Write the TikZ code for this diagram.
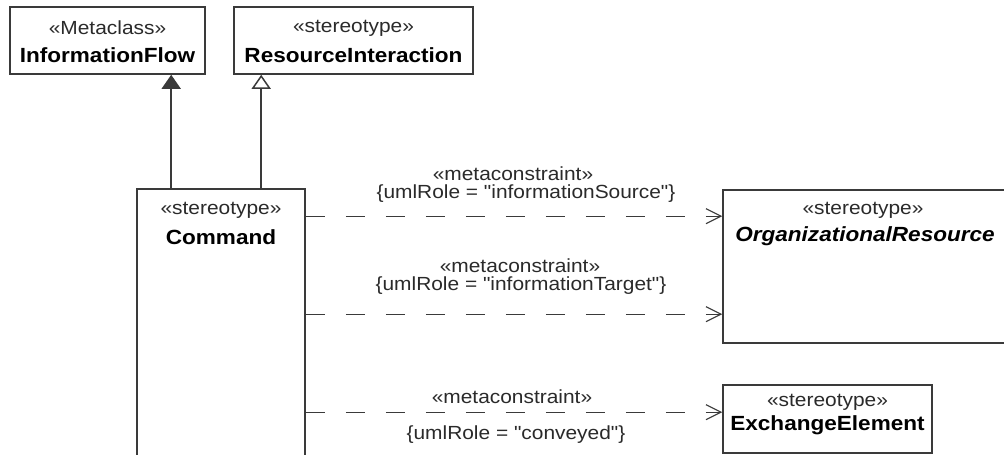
\documentclass[tikz,border=0pt]{standalone}
\usepackage{fontspec}
\setmainfont{Liberation Sans}[FakeStretch=1.1, Ligatures=TeXOff]
\usetikzlibrary{arrows.meta}
\definecolor{ln}{HTML}{3A3A3A}
\definecolor{txt}{HTML}{2A2A2A}
\tikzset{
  box/.style={draw=ln, line width=1.6pt, rectangle, inner sep=0pt, fill=white},
  ster/.style={inner sep=0pt, text=txt, font=\fontsize{19}{19}\selectfont},
  nm/.style={inner sep=0pt, text=black, font=\fontsize{20.5}{20.5}\selectfont\bfseries},
  lbl/.style={inner sep=0pt, text=txt, font=\fontsize{19}{19}\selectfont},
  genfill/.style={draw=ln, line width=1.5pt, -{Triangle[length=14pt,width=19pt,fill=ln]}},
  genopen/.style={draw=ln, line width=1.5pt, -{Triangle[open,length=14pt,width=19pt,fill=white]}},
  dep/.style={draw=ln, line width=1.1pt, dash pattern=on 19pt off 21pt, -{Straight Barb[length=15pt,width=15pt,line width=1.1pt]}}
}
\begin{document}
\begin{tikzpicture}[x=1pt,y=-1pt]
\useasboundingbox (0,0) rectangle (1004,455);
\clip (0,0) rectangle (1004,455);
\fill[white] (0,0) rectangle (1004,455);
% boxes
\node[box, minimum width=195pt, minimum height=67pt] (ifl) at (107.5,40.5) {};
\node[box, minimum width=239pt, minimum height=67pt] (ri) at (353.5,40.5) {};
\node[box, minimum width=168pt, minimum height=290pt] (cmd) at (221,334) {};
\node[box, minimum width=290pt, minimum height=153pt] (org) at (868,266.5) {};
\node[box, minimum width=209pt, minimum height=68pt] (ex) at (827.5,419) {};
% texts
\node[ster] (iflS) at (107.5,28) {«Metaclass»};
\node[nm] (iflN) at (107.5,55) {InformationFlow};
\node[ster] (riS) at (353.5,28) {«stereotype»};
\node[nm] (riN) at (353.5,55) {ResourceInteraction};
\node[ster] (cmdS) at (221,210) {«stereotype»};
\node[nm] (cmdN) at (221,237) {Command};
\node[ster] (orgS) at (863,210) {«stereotype»};
\node[nm, font=\fontsize{20.5}{20.5}\selectfont\bfseries\itshape] (orgN) at (865,236) {OrganizationalResource};
\node[ster] (exS) at (827.5,402) {«stereotype»};
\node[nm] (exN) at (827.5,425) {ExchangeElement};
% generalizations
\draw[genfill] ([xshift=35pt]cmd.north west) -- ([xshift=35pt]cmd.north west |- ifl.south);
\draw[genopen] ([xshift=125pt]cmd.north west) -- ([xshift=125pt]cmd.north west |- ri.south);
% dependencies
\path ([yshift=-28pt]cmd.north east) coordinate (s1)
      ([yshift=-126pt]cmd.north east) coordinate (s2)
      ([yshift=-224pt]cmd.north east) coordinate (s3);
\draw[dep] (s1) -- (s1 -| org.west);
\draw[dep] (s2) -- (s2 -| org.west);
\draw[dep] (s3) -- (s3 -| ex.west);
% labels
\node[lbl] (l1a) at (513,174) {«metaconstraint»};
\node[lbl] (l1b) at (526,194) {\{umlRole = "informationSource"\}};
\node[lbl] (l2a) at (520,266) {«metaconstraint»};
\node[lbl] (l2b) at (521,286) {\{umlRole = "informationTarget"\}};
\node[lbl] (l3a) at (512,397) {«metaconstraint»};
\node[lbl] (l3b) at (516,435) {\{umlRole = "conveyed"\}};
\end{tikzpicture}
\end{document}
